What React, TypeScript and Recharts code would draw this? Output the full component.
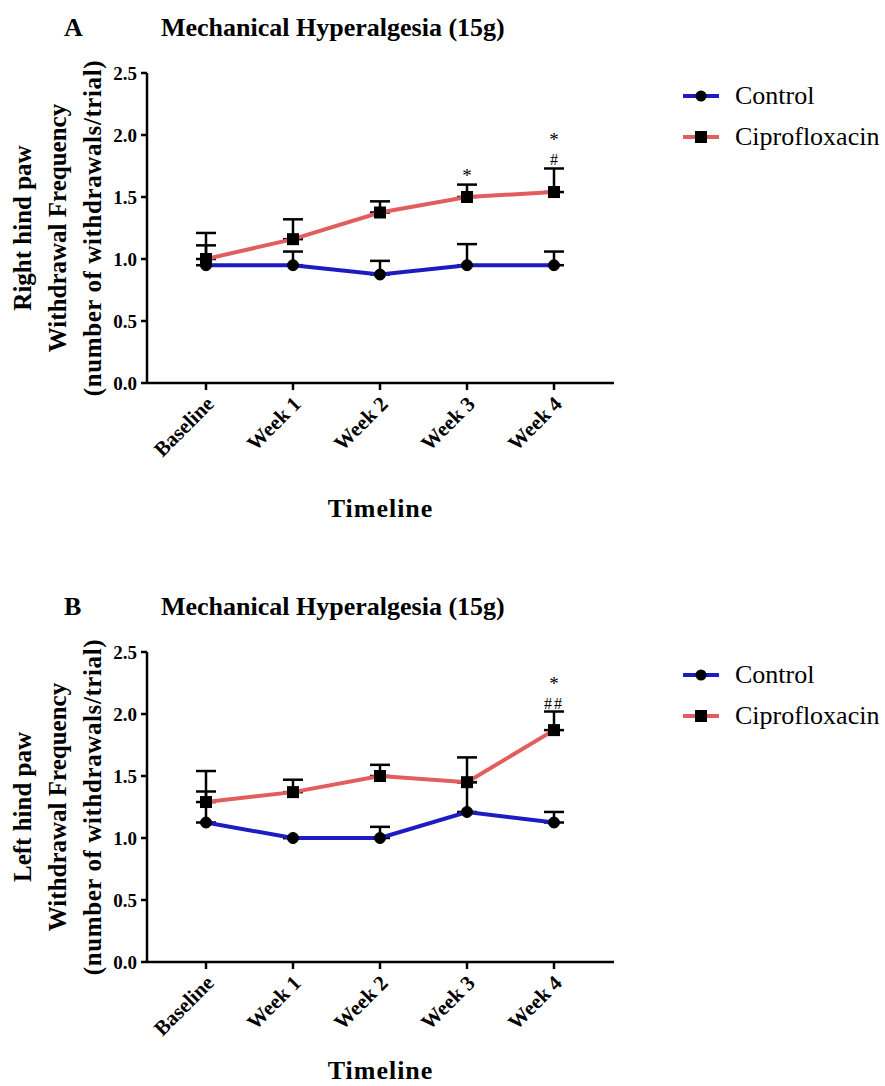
import React from 'react'
import { LineChart, Line, XAxis, YAxis, ErrorBar, LabelList } from 'recharts'

const timeline = ['Baseline', 'Week 1', 'Week 2', 'Week 3', 'Week 4']
const yTicks = [0, 0.5, 1, 1.5, 2, 2.5]

// A: right hind paw (mean, upper SEM)
const rightControl = [0.95, 0.95, 0.875, 0.95, 0.95]
const rightControlSem = [0.16, 0.11, 0.11, 0.17, 0.11]
const rightCipro = [1.0, 1.16, 1.375, 1.5, 1.54]
const rightCiproSem = [0.21, 0.16, 0.09, 0.1, 0.19]
const rightMarks = ['', '', '', '*', '*\n#']

// B: left hind paw
const leftControl = [1.125, 1.0, 1.0, 1.21, 1.125]
const leftControlSem = [0.25, 0, 0.09, 0.24, 0.085]
const leftCipro = [1.29, 1.37, 1.5, 1.45, 1.87]
const leftCiproSem = [0.25, 0.1, 0.09, 0.2, 0.15]
const leftMarks = ['', '', '', '', '*\n##']

const FONT = "'Liberation Serif', 'Times New Roman', serif"
const BLUE = '#1c1cc2'
const RED = '#e25d5d'

function buildRows(control: number[], controlSem: number[], cipro: number[], ciproSem: number[], marks: string[]) {
  return timeline.map((time, i) => ({
    time,
    control: control[i],
    controlErr: [0, controlSem[i]],
    cipro: cipro[i],
    ciproErr: [0, ciproSem[i]],
    top: cipro[i] + ciproSem[i],
    mark: marks[i],
  }))
}

function SquareDot(props: any) {
  const { cx, cy, index } = props
  if (cx == null || cy == null) return null
  return <rect key={index} x={cx - 6} y={cy - 6} width={12} height={12} fill="#000" />
}

function SlantTick(props: any) {
  const { x, y, payload } = props
  return (
    <g transform={`translate(${x + 4},${y + 8})`}>
      <text
        textAnchor="end"
        transform="rotate(-45)"
        dy="0.35em"
        fontFamily={FONT}
        fontWeight="bold"
        fontSize={21}
        fill="#000"
      >
        {payload.value}
      </text>
    </g>
  )
}

// significance marks stacked above the error bar
function StatMark(props: any) {
  const { x, y, value } = props
  if (!value) return null
  const lines = String(value).split('\n')
  const step = 19
  return (
    <g>
      {lines.map((l, k) => (
        <text
          key={k}
          x={x}
          y={y - 3 - (lines.length - 1 - k) * step}
          textAnchor="middle"
          fontFamily={FONT}
          fontSize={l === '*' ? 19 : 16}
          letterSpacing={l.length > 1 ? 2 : 0}
          fill="#000"
        >
          {l}
        </text>
      ))}
    </g>
  )
}

function Legend({ top }: { top: number }) {
  const rows = [
    { name: 'Control', color: BLUE, square: false },
    { name: 'Ciprofloxacin', color: RED, square: true },
  ]
  return (
    <>
      {rows.map((r, i) => (
        <div
          key={r.name}
          style={{
            position: 'absolute',
            left: 683,
            top: top + i * 41 - 15,
            height: 30,
            display: 'flex',
            alignItems: 'center',
            fontFamily: FONT,
            fontSize: 26,
            whiteSpace: 'nowrap',
          }}
        >
          <svg width={36} height={14} style={{ marginRight: 16 }}>
            <line x1={0} y1={7} x2={36} y2={7} stroke={r.color} strokeWidth={4} />
            {r.square ? <rect x={12} y={1} width={12} height={12} fill="#000" /> : <circle cx={18} cy={7} r={5.5} fill="#000" />}
          </svg>
          {r.name}
        </div>
      ))}
    </>
  )
}

interface PanelProps {
  top: number
  height: number
  letter: string
  paw: string
  rows: ReturnType<typeof buildRows>
  timelineGap: number
}

function Panel({ top, height, letter, paw, rows, timelineGap }: PanelProps) {
  const yLines = [paw, 'Withdrawal Frequency', '(number of withdrawals/trial)']
  const lineX = [22, 57, 92]
  return (
    <div style={{ position: 'absolute', left: 0, top, width: 885, height }}>
      <LineChart width={885} height={height} data={rows} margin={{ top: 73, right: 271, left: 87, bottom: height - 383 - 100 }}>
        <XAxis
          dataKey="time"
          height={100}
          padding={{ left: 59, right: 60 }}
          axisLine={{ stroke: '#000', strokeWidth: 2.5 }}
          tickLine={{ stroke: '#000', strokeWidth: 2.5 }}
          tickSize={7}
          tick={<SlantTick />}
          interval={0}
          label={(p: any) => (
            <text
              x={p.viewBox.x + p.viewBox.width / 2}
              y={p.viewBox.y + timelineGap}
              textAnchor="middle"
              dominantBaseline="central"
              fontFamily={FONT}
              fontWeight="bold"
              fontSize={26}
              letterSpacing={1}
              fill="#000"
            >
              Timeline
            </text>
          )}
        />
        <YAxis
          width={60}
          domain={[0, 2.5]}
          ticks={yTicks}
          interval={0}
          tickFormatter={(v: number) => v.toFixed(1)}
          axisLine={{ stroke: '#000', strokeWidth: 2.5 }}
          tickLine={{ stroke: '#000', strokeWidth: 2.5 }}
          tickSize={6}
          tickMargin={4}
          tick={{ fill: '#000', fontFamily: FONT, fontWeight: 'bold', fontSize: 19 }}
          label={(p: any) => {
            const cy = p.viewBox.y + p.viewBox.height / 2
            return (
              <g>
                {yLines.map((l, i) => (
                  <text
                    key={i}
                    x={lineX[i]}
                    y={cy}
                    transform={`rotate(-90 ${lineX[i]} ${cy})`}
                    textAnchor="middle"
                    dominantBaseline="central"
                    fontFamily={FONT}
                    fontWeight="bold"
                    fontSize={25}
                    letterSpacing={i === 2 ? 0.6 : 0}
                    fill="#000"
                  >
                    {l}
                  </text>
                ))}
              </g>
            )
          }}
        />
        <Line
          dataKey="control"
          stroke={BLUE}
          strokeWidth={4}
          dot={{ r: 5.5, fill: '#000', stroke: '#000', strokeWidth: 1 }}
          activeDot={false}
          isAnimationActive={false}
        >
          <ErrorBar dataKey="controlErr" direction="y" width={10} stroke="#000" strokeWidth={2.5} isAnimationActive={false} />
        </Line>
        <Line
          dataKey="cipro"
          stroke={RED}
          strokeWidth={4}
          dot={<SquareDot />}
          activeDot={false}
          isAnimationActive={false}
        >
          <ErrorBar dataKey="ciproErr" direction="y" width={10} stroke="#000" strokeWidth={2.5} isAnimationActive={false} />
        </Line>
        <Line dataKey="top" stroke="none" dot={false} activeDot={false} isAnimationActive={false}>
          <LabelList dataKey="mark" content={<StatMark />} />
        </Line>
      </LineChart>
      <div style={{ position: 'absolute', left: 64, top: 13, fontFamily: FONT, fontWeight: 'bold', fontSize: 26, lineHeight: '30px' }}>
        {letter}
      </div>
      <div style={{ position: 'absolute', left: 161, top: 13, fontFamily: FONT, fontWeight: 'bold', fontSize: 26, lineHeight: '30px', whiteSpace: 'nowrap' }}>
        Mechanical Hyperalgesia (15g)
      </div>
      <Legend top={96} />
    </div>
  )
}

export default function App() {
  const rightRows = buildRows(rightControl, rightControlSem, rightCipro, rightCiproSem, rightMarks)
  const leftRows = buildRows(leftControl, leftControlSem, leftCipro, leftCiproSem, leftMarks)
  return (
    <div style={{ position: 'absolute', left: 0, top: 0, width: 885, height: 1086, background: '#fff' }}>
      <Panel top={0} height={540} letter="A" paw="Right hind paw" rows={rightRows} timelineGap={125} />
      <Panel top={579} height={507} letter="B" paw="Left hind paw" rows={leftRows} timelineGap={108} />
    </div>
  )
}
